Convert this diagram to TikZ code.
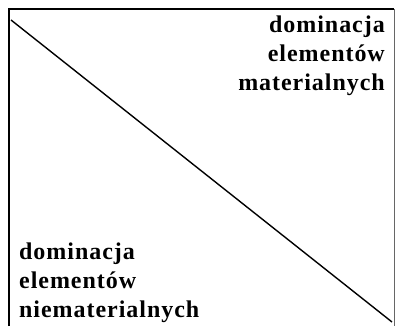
\documentclass[tikz,border=0pt]{standalone}
\usepackage{fontspec}
\setmainfont{Liberation Serif}[LetterSpace=4]
\begin{document}
\begin{tikzpicture}[x=1pt,y=-1pt,
  lbl/.style={font=\bfseries\fontsize{24}{29}\selectfont, inner sep=0pt},
  frame/.style={line width=1.2pt},
  diag/.style={line width=1.4pt}]
\useasboundingbox (0,0) rectangle (395,326);
\coordinate (tl) at (9,9);
\coordinate (tr) at (394,9);
\coordinate (bl) at (9,326);
\coordinate (br) at (394,326);
\coordinate (ds) at (11,20);
\coordinate (de) at (392,322);
\draw[frame] (bl) -- (tl) -- (tr);
\draw[line width=0.6pt, black!60] (tr) -- (br);
\draw[diag] (ds) -- (de);
\node[lbl, align=right, anchor=base east] (mat) at (385,91) {dominacja\\elementów\\materialnych};
\node[lbl, align=left, anchor=base west] (niemat) at (19,317) {dominacja\\elementów\\niematerialnych};
\end{tikzpicture}
\end{document}
